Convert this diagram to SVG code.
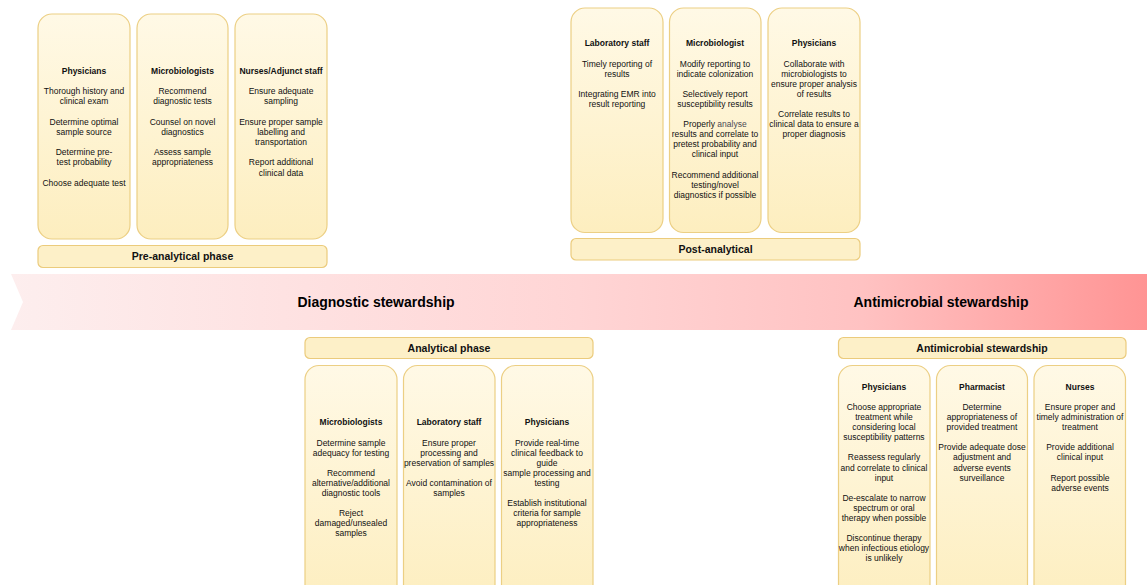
<svg xmlns="http://www.w3.org/2000/svg" width="1147" height="585" viewBox="0 0 1147 585">
<defs>
<linearGradient id="cardGrad" x1="0" y1="0" x2="0" y2="1">
<stop offset="0" stop-color="#fff9e6"/>
<stop offset="1" stop-color="#fdeebf"/>
</linearGradient>
<linearGradient id="bannerGrad" x1="0" y1="0" x2="1" y2="0">
<stop offset="0" stop-color="#fdeeee"/>
<stop offset="0.5" stop-color="#ffd5d5"/>
<stop offset="0.75" stop-color="#ffc2c2"/>
<stop offset="1" stop-color="#ff9494"/>
</linearGradient>
<style>
.card{fill:url(#cardGrad);stroke:#eccf84;stroke-width:1.2}
.phase{fill:#fdf0c8;stroke:#ebcb7c;stroke-width:1.2}
text{font-family:"Liberation Sans",Arial,Helvetica,sans-serif;text-anchor:middle;fill:#111}
.t{font-size:8.5px}
.h{font-size:8.5px;font-weight:bold}
.p{font-size:10.5px;font-weight:bold}
.b{font-size:14px;font-weight:bold;fill:#000}
</style>
</defs>
<rect width="1147" height="585" fill="#ffffff"/>

<g id="banner">
<polygon points="11,274 1147,274 1147,330 11,330 23,302" fill="url(#bannerGrad)"/>
<text class="b" x="376" y="307">Diagnostic stewardship</text>
<text class="b" x="941" y="307">Antimicrobial stewardship</text>
</g>

<g id="connectors"></g>

<!-- Pre-analytical -->
<g id="pre-physicians">
<rect class="card" x="38" y="14" width="92" height="225" rx="14"/>
<text class="h" x="84" y="74">Physicians</text>
<text class="t" x="84"><tspan x="84" y="94.3">Thorough history and</tspan><tspan x="84" y="104.45">clinical exam</tspan><tspan x="84" y="124.75">Determine optimal</tspan><tspan x="84" y="134.9">sample source</tspan><tspan x="84" y="155.2">Determine pre-</tspan><tspan x="84" y="165.35">test probability</tspan><tspan x="84" y="185.65">Choose adequate test</tspan></text>
</g>
<g id="pre-microbiologists">
<rect class="card" x="137" y="14" width="91" height="225" rx="14"/>
<text class="h" x="182.5" y="74">Microbiologists</text>
<text class="t" x="182.5"><tspan x="182.5" y="94.3">Recommend</tspan><tspan x="182.5" y="104.45">diagnostic tests</tspan><tspan x="182.5" y="124.75">Counsel on novel</tspan><tspan x="182.5" y="134.9">diagnostics</tspan><tspan x="182.5" y="155.2">Assess sample</tspan><tspan x="182.5" y="165.35">appropriateness</tspan></text>
</g>
<g id="pre-nurses">
<rect class="card" x="235" y="14" width="92" height="225" rx="14"/>
<text class="h" x="281" y="74">Nurses/Adjunct staff</text>
<text class="t" x="281"><tspan x="281" y="94.3">Ensure adequate</tspan><tspan x="281" y="104.45">sampling</tspan><tspan x="281" y="124.75">Ensure proper sample</tspan><tspan x="281" y="134.9">labelling and</tspan><tspan x="281" y="145.05">transportation</tspan><tspan x="281" y="165.35">Report additional</tspan><tspan x="281" y="175.5">clinical data</tspan></text>
</g>
<g id="pre-analytical-phase">
<rect class="phase" x="38" y="245.5" width="289" height="22" rx="5"/>
<text class="p" x="182.5" y="260.3">Pre-analytical phase</text>
</g>

<!-- Post-analytical -->
<g id="post-lab">
<rect class="card" x="571" y="8" width="92" height="224.5" rx="14"/>
<text class="h" x="617" y="46.3">Laboratory staff</text>
<text class="t" x="617"><tspan x="617" y="66.5">Timely reporting of</tspan><tspan x="617" y="76.6">results</tspan><tspan x="617" y="96.8">Integrating EMR into</tspan><tspan x="617" y="106.9">result reporting</tspan></text>
</g>
<g id="post-microbiologist">
<rect class="card" x="669.5" y="8" width="91.5" height="224.5" rx="14"/>
<text class="h" x="715" y="46.3">Microbiologist</text>
<text class="t" x="715"><tspan x="715" y="66.5">Modify reporting to</tspan><tspan x="715" y="76.6">indicate colonization</tspan><tspan x="715" y="96.8">Selectively report</tspan><tspan x="715" y="106.9">susceptibility results</tspan><tspan x="715" y="127.1">Properly <tspan fill="#4a4a55">analyse</tspan></tspan><tspan x="715" y="137.2">results and correlate to</tspan><tspan x="715" y="147.3">pretest probability and</tspan><tspan x="715" y="157.4">clinical input</tspan><tspan x="715" y="177.6">Recommend additional</tspan><tspan x="715" y="187.7">testing/novel</tspan><tspan x="715" y="197.8">diagnostics if possible</tspan></text>
</g>
<g id="post-physicians">
<rect class="card" x="768" y="8" width="92" height="224.5" rx="14"/>
<text class="h" x="814" y="46.3">Physicians</text>
<text class="t" x="814"><tspan x="814" y="66.5">Collaborate with</tspan><tspan x="814" y="76.6">microbiologists to</tspan><tspan x="814" y="86.7">ensure proper analysis</tspan><tspan x="814" y="96.8">of results</tspan><tspan x="814" y="117">Correlate results to</tspan><tspan x="814" y="127.1">clinical data to ensure a</tspan><tspan x="814" y="137.2">proper diagnosis</tspan></text>
</g>
<g id="post-analytical-phase">
<rect class="phase" x="571" y="238.5" width="289" height="21.5" rx="5"/>
<text class="p" x="715.5" y="253.3">Post-analytical</text>
</g>

<!-- Analytical -->
<g id="analytical-phase">
<rect class="phase" x="305" y="337.5" width="288" height="21" rx="5"/>
<text class="p" x="449" y="352">Analytical phase</text>
</g>
<g id="ana-microbiologists">
<rect class="card" x="305" y="365.5" width="92" height="240" rx="14"/>
<text class="h" x="351" y="425.3">Microbiologists</text>
<text class="t" x="351"><tspan x="351" y="445.5">Determine sample</tspan><tspan x="351" y="455.6">adequacy for testing</tspan><tspan x="351" y="475.8">Recommend</tspan><tspan x="351" y="485.9">alternative/additional</tspan><tspan x="351" y="496">diagnostic tools</tspan><tspan x="351" y="516.2">Reject</tspan><tspan x="351" y="526.3">damaged/unsealed</tspan><tspan x="351" y="536.4">samples</tspan></text>
</g>
<g id="ana-lab">
<rect class="card" x="403.5" y="365.5" width="91.5" height="240" rx="14"/>
<text class="h" x="449" y="425.3">Laboratory staff</text>
<text class="t" x="449"><tspan x="449" y="445.5">Ensure proper</tspan><tspan x="449" y="455.6">processing and</tspan><tspan x="449" y="465.7">preservation of samples</tspan><tspan x="449" y="485.9">Avoid contamination of</tspan><tspan x="449" y="496">samples</tspan></text>
</g>
<g id="ana-physicians">
<rect class="card" x="501.5" y="365.5" width="91.5" height="240" rx="14"/>
<text class="h" x="547" y="425.3">Physicians</text>
<text class="t" x="547"><tspan x="547" y="445.5">Provide real-time</tspan><tspan x="547" y="455.6">clinical feedback to</tspan><tspan x="547" y="465.7">guide</tspan><tspan x="547" y="475.8">sample processing and</tspan><tspan x="547" y="485.9">testing</tspan><tspan x="547" y="506.1">Establish institutional</tspan><tspan x="547" y="516.2">criteria for sample</tspan><tspan x="547" y="526.3">appropriateness</tspan></text>
</g>

<!-- Antimicrobial stewardship -->
<g id="ams-phase">
<rect class="phase" x="838.5" y="337.5" width="287.5" height="21" rx="5"/>
<text class="p" x="982" y="352">Antimicrobial stewardship</text>
</g>
<g id="ams-physicians">
<rect class="card" x="838.5" y="365.5" width="91.5" height="240" rx="14"/>
<text class="h" x="884" y="389.7">Physicians</text>
<text class="t" x="884"><tspan x="884" y="409.9">Choose appropriate</tspan><tspan x="884" y="420">treatment while</tspan><tspan x="884" y="430.1">considering local</tspan><tspan x="884" y="440.2">susceptibility patterns</tspan><tspan x="884" y="460.4">Reassess regularly</tspan><tspan x="884" y="470.5">and correlate to clinical</tspan><tspan x="884" y="480.6">input</tspan><tspan x="884" y="500.8">De-escalate to narrow</tspan><tspan x="884" y="510.9">spectrum or oral</tspan><tspan x="884" y="521">therapy when possible</tspan><tspan x="884" y="541.2">Discontinue therapy</tspan><tspan x="884" y="551.3">when infectious etiology</tspan><tspan x="884" y="561.4">is unlikely</tspan></text>
</g>
<g id="ams-pharmacist">
<rect class="card" x="936.5" y="365.5" width="91" height="240" rx="14"/>
<text class="h" x="982" y="389.7">Pharmacist</text>
<text class="t" x="982"><tspan x="982" y="409.9">Determine</tspan><tspan x="982" y="420">appropriateness of</tspan><tspan x="982" y="430.1">provided treatment</tspan><tspan x="982" y="450.3">Provide adequate dose</tspan><tspan x="982" y="460.4">adjustment and</tspan><tspan x="982" y="470.5">adverse events</tspan><tspan x="982" y="480.6">surveillance</tspan></text>
</g>
<g id="ams-nurses">
<rect class="card" x="1034" y="365.5" width="91.5" height="240" rx="14"/>
<text class="h" x="1080" y="389.7">Nurses</text>
<text class="t" x="1080"><tspan x="1080" y="409.9">Ensure proper and</tspan><tspan x="1080" y="420">timely administration of</tspan><tspan x="1080" y="430.1">treatment</tspan><tspan x="1080" y="450.3">Provide additional</tspan><tspan x="1080" y="460.4">clinical input</tspan><tspan x="1080" y="480.6">Report possible</tspan><tspan x="1080" y="490.7">adverse events</tspan></text>
</g>
</svg>
